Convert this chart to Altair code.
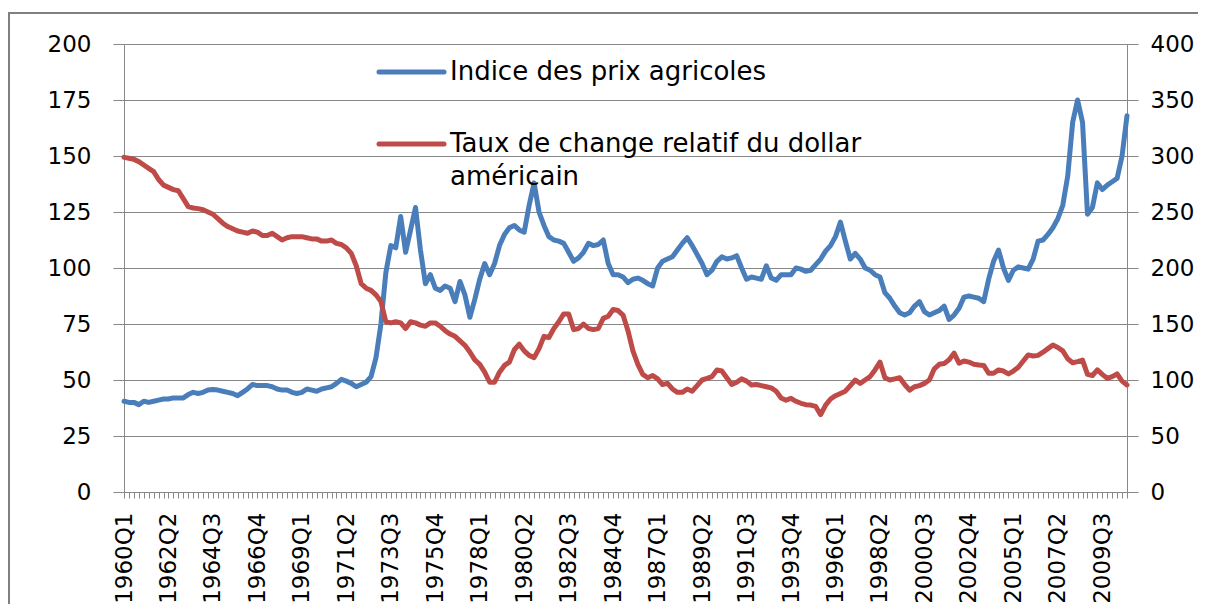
import json
import altair as alt
import pandas as pd

# ---------------- data ----------------
years = list(range(1960, 2011))
quarters = [f"{y}Q{q}" for y in years for q in (1, 2, 3, 4)]

tick_labels = ["1960Q1", "1962Q2", "1964Q3", "1966Q4", "1969Q1", "1971Q2", "1973Q3",
               "1975Q4", "1978Q1", "1980Q2", "1982Q3", "1984Q4", "1987Q1", "1989Q2",
               "1991Q3", "1993Q4", "1996Q1", "1998Q2", "2000Q3", "2002Q4", "2005Q1",
               "2007Q2", "2009Q3"]

left_ticks = [0, 25, 50, 75, 100, 125, 150, 175, 200]
right_ticks = [0, 50, 100, 150, 200, 250, 300, 350, 400]

# Indice des prix agricoles (left axis)
prix = [
    40.5, 40, 40, 39, 40.5, 40, 40.5, 41, 41.5, 41.5,
    42, 42, 42, 43.5, 44.5, 44, 44.5, 45.5, 45.8, 45.5,
    45, 44.5, 44, 43, 44.5, 46, 48, 47.5, 47.5, 47.5,
    47, 46, 45.5, 45.5, 44.5, 44, 44.5, 46, 45.5, 45,
    46, 46.5, 47, 48.5, 50.3, 49.5, 48.5, 47, 48, 49,
    51.5, 60, 75, 98, 110, 109, 123, 107, 117, 127,
    108, 93, 97, 91, 90, 92, 91, 85, 94, 88,
    78, 86, 95, 102, 97, 102, 110, 115, 118, 119,
    117, 116, 128, 138, 125, 119, 114, 112.5, 112, 111,
    107, 103, 104.5, 107, 111, 110, 110.5, 112.5, 102, 97,
    97, 96, 93.5, 95, 95.5, 94.5, 93, 92, 100, 103,
    104, 105, 108, 111, 113.5, 110, 106, 102, 97, 99,
    103, 105, 104, 104.5, 105.5, 100, 95, 96, 95.5, 95,
    101, 95.5, 94.5, 97, 97, 97, 100, 99.5, 98.5, 99,
    101.5, 104, 107.5, 110, 114, 120.5, 112, 104, 106.5, 104,
    100, 99, 97, 96, 89, 86.5, 83, 80, 79, 80,
    83, 85, 80.5, 79, 80, 81, 83, 77, 79, 82,
    87, 87.5, 87, 86.5, 85, 95, 103, 108, 100, 94.5,
    99, 100.5, 100, 99.5, 104, 112, 112.5, 115, 118, 122,
    128, 141, 165, 175, 165, 124, 127, 138, 135, 137,
    138.5, 140, 150, 168,
]

# Taux de change relatif du dollar americain (right axis)
taux = [
    298.8, 298, 297, 295, 292, 289, 286, 279, 274, 272,
    270, 269, 262, 254.8, 253.6, 253, 252, 250, 248, 244,
    240, 237, 235, 233, 232, 231, 233, 232, 229, 229,
    231, 228, 225, 227, 228, 228, 228, 227, 226, 226,
    224, 224, 225, 222, 221, 218, 213, 202, 186, 182,
    180, 176, 170, 152, 151, 152, 151, 146, 152, 151,
    149, 148, 151, 151, 148, 144, 141, 139, 135, 131,
    125, 118, 114, 107, 98, 98, 107, 113, 116, 127,
    132, 126, 122, 120, 128, 139, 138, 146, 152, 159,
    159, 145, 146, 150, 146, 145, 146, 155, 157, 163,
    162, 158, 144, 126, 114, 105, 102, 104, 101, 96,
    97, 92, 89, 89, 92, 90, 95, 100, 101.4, 103,
    109, 108, 102, 96, 98, 101, 99, 95.6, 96, 95,
    94, 93, 90, 84, 82, 83.6, 81, 79.2, 78, 77.6,
    76.4, 69, 77.6, 83, 86, 88, 90, 95, 100, 97,
    100, 103, 109, 116, 102, 100, 101, 102, 96, 91,
    94, 95, 97, 100, 110, 114, 114.8, 118, 124, 115,
    117, 116, 114, 113.4, 113, 106, 106, 109, 108, 105.4,
    108, 111.4, 117, 122.4, 121.4, 122, 124.8, 128, 131.2, 129,
    126, 119, 115.4, 116.4, 117.8, 105, 104, 109, 105, 101.4,
    103, 105.4, 99, 95.6,
]

legend_labels = ["Indice des prix agricoles", "Taux de change relatif du dollar", "américain"]

df = pd.DataFrame({"trimestre": quarters, "prix": prix, "taux": taux})

# ---------------- style ----------------
GRID = "#888888"
BLUE = "#4A7EBB"
RED = "#BE4B48"
FONT = "DejaVu Sans"
W, H = 1003, 448
LW = 5

label_expr = f"indexof({json.dumps(tick_labels)}, datum.value) >= 0 ? datum.value : ''"

x_enc = alt.X(
    "trimestre:O",
    sort=quarters,
    scale=alt.Scale(type="point", padding=0),
    axis=alt.Axis(
        title=None, values=quarters, labelExpr=label_expr, labelAngle=270,
        labelOverlap=False, tickSize=6, tickColor=GRID, domainColor=GRID,
        labelPadding=14, labelFontSize=23, labelFont=FONT, labelColor="#000000",
        grid=False,
    ),
)

blue = alt.Chart(df).mark_line(
    color=BLUE, strokeWidth=LW, strokeJoin="round", strokeCap="round"
).encode(
    x=x_enc,
    y=alt.Y(
        "prix:Q",
        scale=alt.Scale(domain=[0, 200], nice=False),
        axis=alt.Axis(
            title=None, values=left_ticks, grid=True, gridColor=GRID, gridWidth=1,
            tickSize=11, tickColor=GRID, domainColor=GRID, labelFontSize=23,
            labelFont=FONT, labelColor="#000000", labelPadding=22,
        ),
    ),
)

red = alt.Chart(df).mark_line(
    color=RED, strokeWidth=LW, strokeJoin="round", strokeCap="round"
).encode(
    x=x_enc,
    y=alt.Y(
        "taux:Q",
        scale=alt.Scale(domain=[0, 400], nice=False),
        axis=alt.Axis(
            title=None, orient="right", values=right_ticks, grid=False,
            tickSize=11, tickColor=GRID, domainColor=GRID, labelFontSize=23,
            labelFont=FONT, labelColor="#000000", labelPadding=12,
        ),
    ),
)

lines = alt.layer(blue, red).resolve_scale(y="independent")

# ---------------- legend (inside the plot) ----------------
leg1 = pd.DataFrame({"legende": [legend_labels[0]]})
leg2 = pd.DataFrame({"legende": [legend_labels[1]]})
leg3 = pd.DataFrame({"legende": [legend_labels[2]]})

leg_blue_line = alt.Chart(leg1).mark_rule(color=BLUE, strokeWidth=LW, strokeCap="round").encode(
    x=alt.value(255), x2=alt.value(320), y=alt.value(28))
leg_red_line = alt.Chart(leg2).mark_rule(color=RED, strokeWidth=LW, strokeCap="round").encode(
    x=alt.value(255), x2=alt.value(320), y=alt.value(100))
txt_style = dict(align="left", baseline="alphabetic", font=FONT, fontSize=26, color="#000000")
leg_blue_txt = alt.Chart(leg1).mark_text(**txt_style).encode(
    x=alt.value(326), y=alt.value(36), text="legende:N")
leg_red_txt = alt.Chart(leg2).mark_text(**txt_style).encode(
    x=alt.value(326), y=alt.value(108), text="legende:N")
leg_red_txt2 = alt.Chart(leg3).mark_text(**txt_style).encode(
    x=alt.value(326), y=alt.value(141), text="legende:N")

# outer frame of the chart
frame = alt.Chart(leg1).mark_rect(fillOpacity=0, stroke="#808080", strokeWidth=2).encode(
    x=alt.value(-115), x2=alt.value(1100), y=alt.value(-31), y2=alt.value(600))

chart = alt.layer(
    lines, leg_blue_line, leg_red_line, leg_blue_txt, leg_red_txt, leg_red_txt2, frame
).properties(
    width=W, height=H,
    autosize=alt.AutoSizeParams(type="none"),
    padding={"left": 116, "top": 36, "right": 71, "bottom": 112},
    background="white",
).configure_view(strokeWidth=0)

chart.save("out.html", embed_options={"renderer": "svg", "actions": False})
